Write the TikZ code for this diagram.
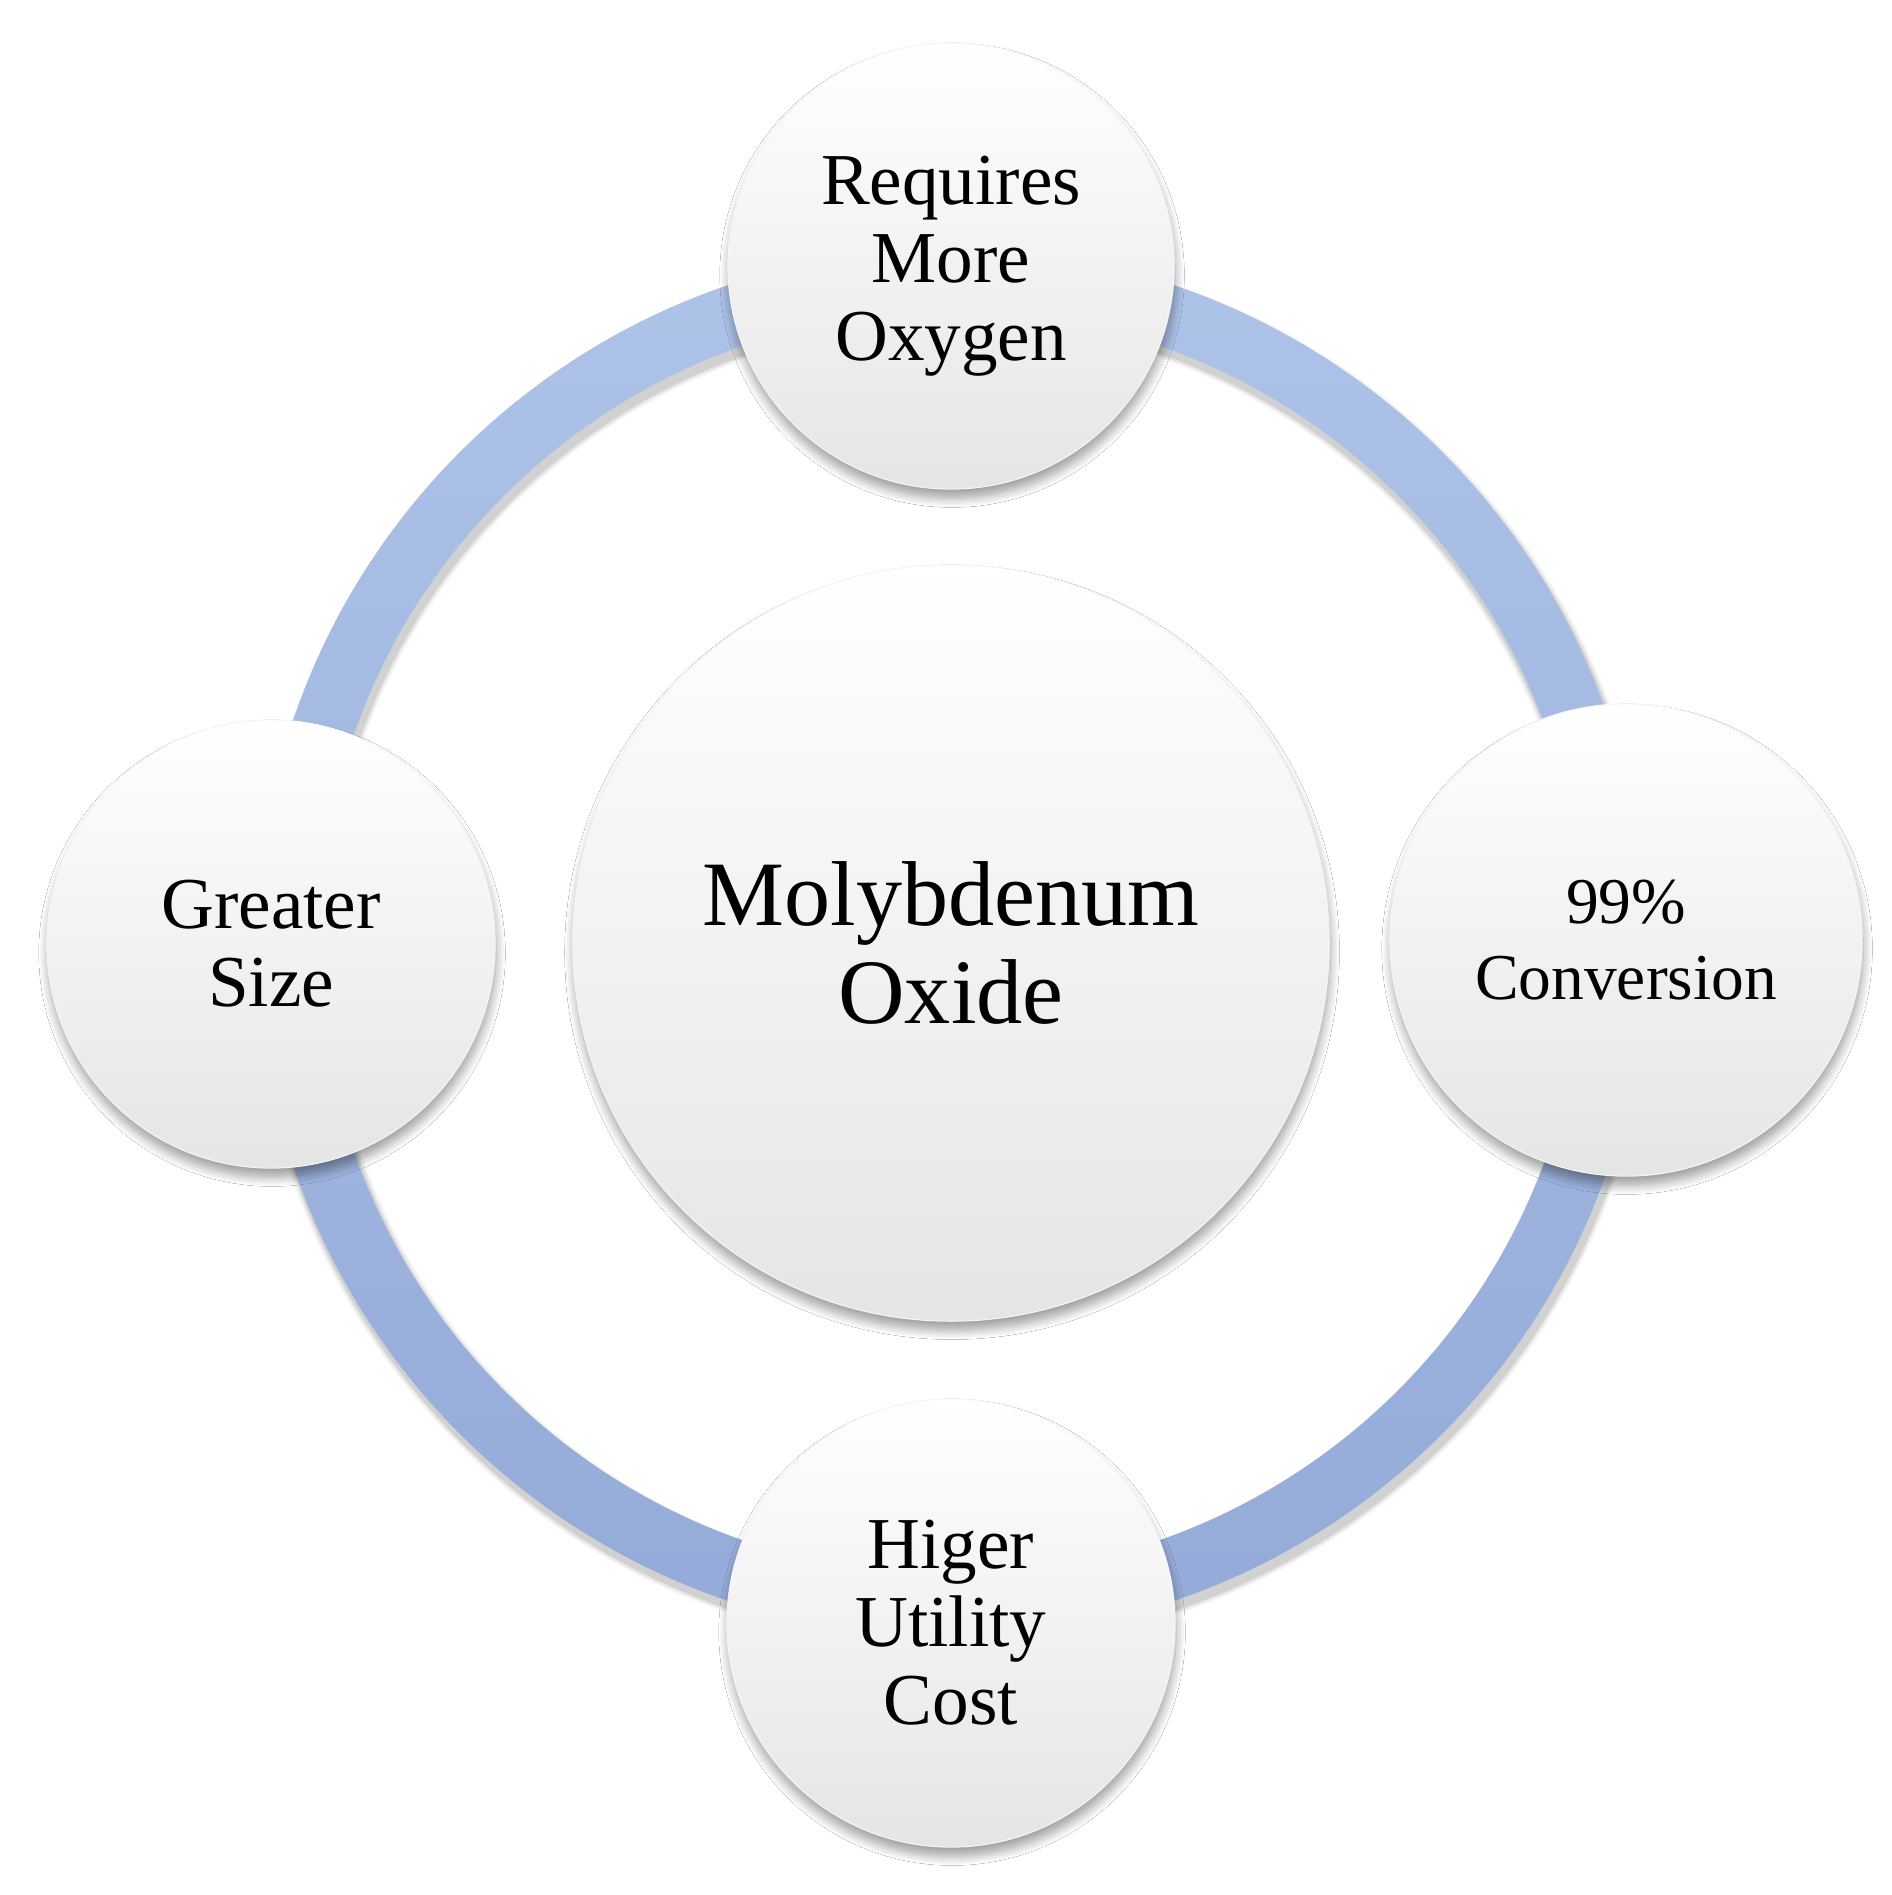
\documentclass[tikz,border=0pt]{standalone}
\usepackage{fontspec}
\setmainfont{Liberation Serif}
\usetikzlibrary{shadows.blur}
\definecolor{ringtop}{RGB}{174,195,232}
\definecolor{ringbot}{RGB}{148,170,216}
\definecolor{bubblemid}{RGB}{250,250,250}
\definecolor{bubblebot}{RGB}{229,229,229}
\tikzset{
  bubble/.style={circle, inner sep=0pt, align=center,
    top color=white, middle color=bubblemid, bottom color=bubblebot,
    draw=black!4, line width=0.3pt,
    blur shadow={shadow xshift=0.3pt, shadow yshift=-2.6pt, shadow blur radius=2.6pt, shadow opacity=38, shadow blur steps=12}},
  smalltext/.style={font=\fontsize{20.8}{22.2}\selectfont},
  convtext/.style={font=\fontsize{18.6}{21.4}\selectfont},
  bigtext/.style={font=\fontsize{26.2}{27.6}\selectfont}
}
\begin{document}
\begin{tikzpicture}[x=0.01cm,y=-0.01cm]
\useasboundingbox (0,0) rectangle (1892,1895);
\fill[white] (0,0) rectangle (1892,1895);
\coordinate (c) at (951,943);
% ring with soft shadow
\foreach \w/\o in {0.74/0.04,0.70/0.06,0.66/0.09}{
  \draw[line width=\w cm, black, opacity=\o] ([xshift=0.03cm,yshift=-0.07cm]c) circle[radius=6.63cm];
}
\shade[top color=ringtop, bottom color=ringbot, even odd rule] (c) circle[radius=6.94cm] (c) circle[radius=6.32cm];
% central node
\node[bubble, bigtext, minimum size=7.56cm] (mo) at (c) {Molybdenum\\Oxide};
% satellites
\node[bubble, smalltext, minimum size=4.46cm] (ro) at (951,266) {Requires\\More\\Oxygen};
\node[bubble, convtext, minimum size=4.72cm] (cv) at (1626,940) {99\%\\Conversion};
\node[bubble, smalltext, minimum size=4.48cm] (gs) at (271,944) {Greater\\Size};
\node[bubble, smalltext, minimum size=4.48cm] (hu) at (951,1623) {Higer\\Utility\\Cost};
\end{tikzpicture}
\end{document}
